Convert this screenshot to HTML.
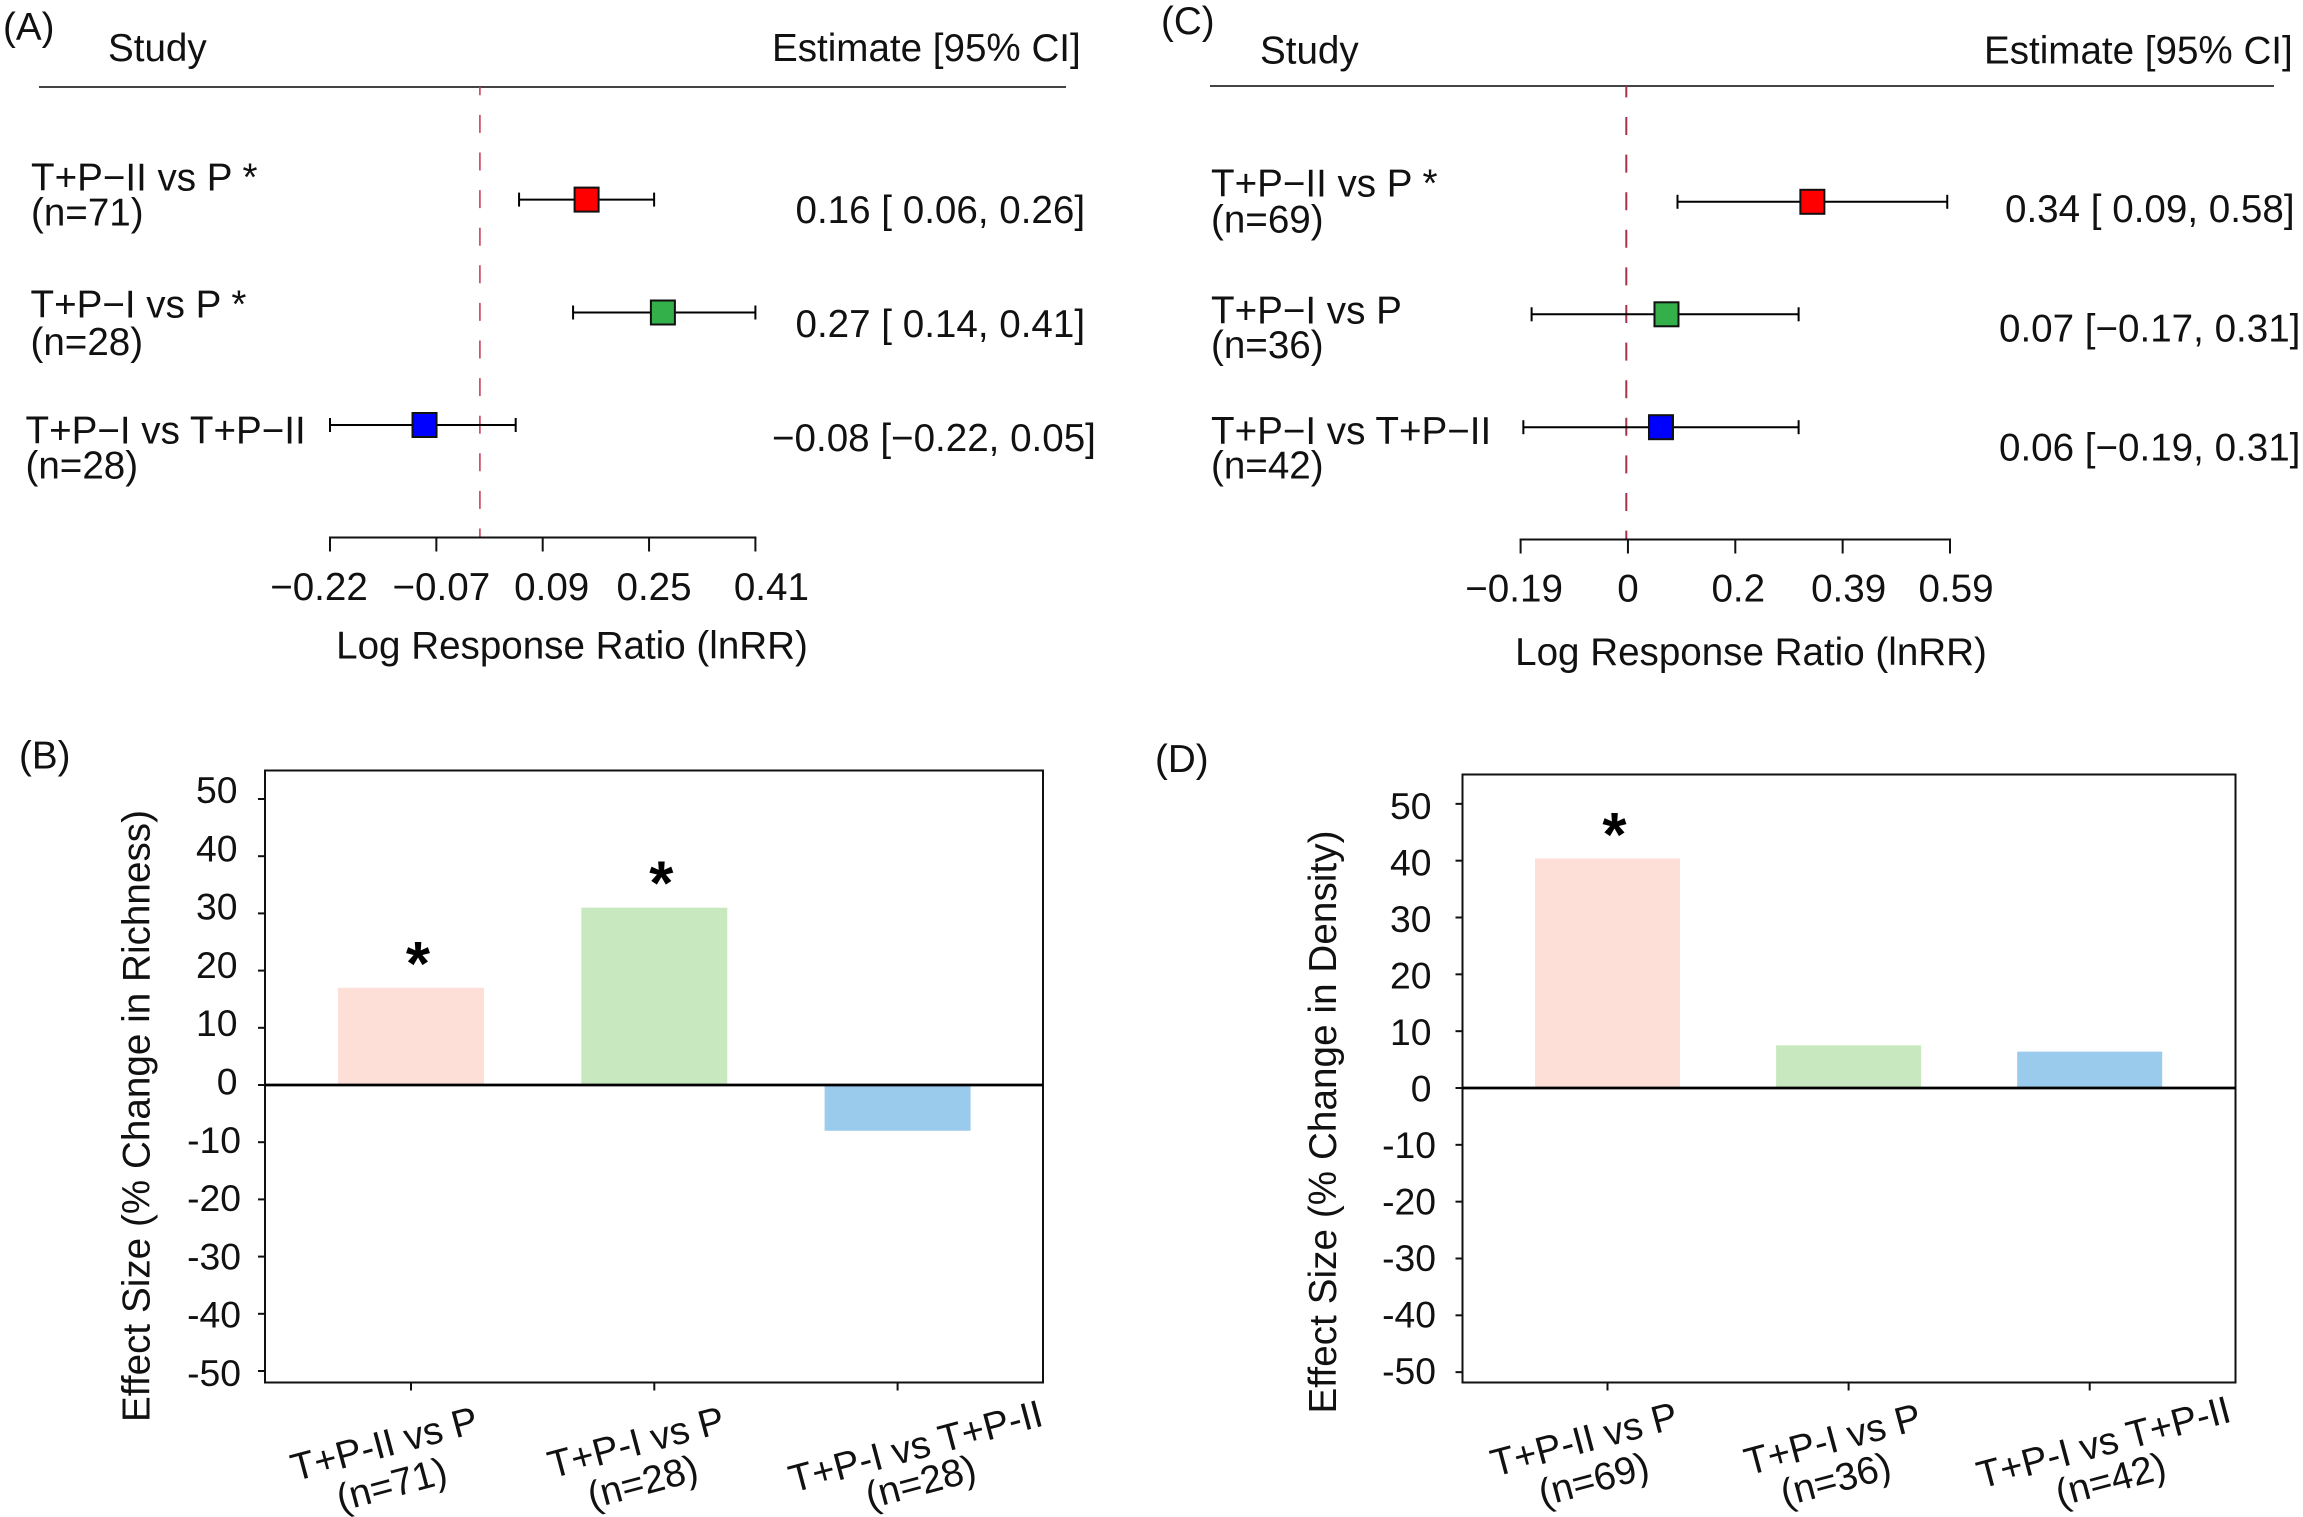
<!DOCTYPE html>
<html lang="en">
<head>
<meta charset="utf-8">
<title>Forest plots and effect size bar charts</title>
<style>
html,body{margin:0;padding:0;background:#fff;}
svg{display:block;}
text{font-family:"Liberation Sans",Arial,sans-serif;font-size:38.6px;fill:#111;}
</style>
</head>
<body>
<svg id="figure" xmlns="http://www.w3.org/2000/svg" width="2303" height="1517" viewBox="0 0 2303 1517">
  <rect x="0" y="0" width="2303" height="1517" fill="#fff"/>

  <g id="panel-a">
    <text x="3" y="40">(A)</text>
    <text x="108" y="61">Study</text>
    <text x="772" y="61">Estimate [95% CI]</text>
    <text x="572" y="658.5" text-anchor="middle">Log Response Ratio (lnRR)</text>
  </g>
  <g id="panel-c">
    <text x="1161" y="34">(C)</text>
    <text x="1260" y="63.5">Study</text>
    <text x="1984" y="63.5">Estimate [95% CI]</text>
    <text x="1751" y="665" text-anchor="middle">Log Response Ratio (lnRR)</text>
  </g>
  <g id="panel-b">
    <text x="19" y="768.5">(B)</text>
    <text transform="translate(149.5 1422) rotate(-90)" textLength="612" lengthAdjust="spacing">Effect Size (% Change in Richness)</text>
  </g>
  <g id="panel-d">
    <text x="1155" y="772">(D)</text>
    <text transform="translate(1336 1413.5) rotate(-90)" textLength="583" lengthAdjust="spacing">Effect Size (% Change in Density)</text>
  </g>
</svg>

<script>
// ---- Panel A data (forest plot, richness) ----
const panelA_studies = ['T+P\u2212II vs P *', 'T+P\u2212I vs P *', 'T+P\u2212I vs T+P\u2212II'];
const panelA_counts = ['(n=71)', '(n=28)', '(n=28)'];
const panelA_estimates = [0.16, 0.273, -0.08];
const panelA_lower = [0.06, 0.14, -0.22];
const panelA_upper = [0.26, 0.41, 0.055];
const panelA_printed = ['0.16 [ 0.06, 0.26]', '0.27 [ 0.14, 0.41]', '\u22120.08 [\u22120.22, 0.05]'];
const panelA_tickValues = [-0.22, -0.0625, 0.095, 0.2525, 0.41];
const panelA_tickLabels = ['\u22120.22', '\u22120.07', '0.09', '0.25', '0.41'];

// ---- Panel C data (forest plot, density) ----
const panelC_studies = ['T+P\u2212II vs P *', 'T+P\u2212I vs P', 'T+P\u2212I vs T+P\u2212II'];
const panelC_counts = ['(n=69)', '(n=36)', '(n=42)'];
const panelC_estimates = [0.34, 0.075, 0.065];
const panelC_lower = [0.095, -0.17, -0.185];
const panelC_upper = [0.585, 0.315, 0.315];
const panelC_printed = ['0.34 [ 0.09, 0.58]', '0.07 [\u22120.17, 0.31]', '0.06 [\u22120.19, 0.31]'];
const panelC_tickValues = [-0.19, 0.005, 0.2, 0.395, 0.59];
const panelC_tickLabels = ['\u22120.19', '0', '0.2', '0.39', '0.59'];

// ---- Panel B data (bar chart, % change in richness) ----
const panelB_categories = ['T+P-II vs P', 'T+P-I vs P', 'T+P-I vs T+P-II'];
const panelB_counts = ['(n=71)', '(n=28)', '(n=28)'];
const panelB_values = [17, 31, -8];
const panelB_significant = [true, true, false];

// ---- Panel D data (bar chart, % change in density) ----
const panelD_categories = ['T+P-II vs P', 'T+P-I vs P', 'T+P-I vs T+P-II'];
const panelD_counts = ['(n=69)', '(n=36)', '(n=42)'];
const panelD_values = [40.4, 7.5, 6.4];
const panelD_significant = [true, false, false];

// ---- Shared y axis ticks for the bar charts ----
const barTickValues = [50, 40, 30, 20, 10, 0, -10, -20, -30, -40, -50];

const SVG_NS = 'http://www.w3.org/2000/svg';

function mk(parent, tag, attrs, content) {
  const el = document.createElementNS(SVG_NS, tag);
  for (const key in attrs) {
    el.setAttribute(key, attrs[key]);
  }
  if (content !== undefined) {
    el.textContent = content;
  }
  parent.appendChild(el);
  return el;
}

function drawForest(parent, prefix, data, box) {
  const xScale = function (v) {
    return box.x0 + (v - box.d0) * (box.x1 - box.x0) / (box.d1 - box.d0);
  };

  const header = mk(parent, 'line', { x1: box.ruleX0, x2: box.ruleX1, y1: box.ruleY, y2: box.ruleY, stroke: '#444', 'stroke-width': 2 });
  
  

  const ref = mk(parent, 'line', { x1: xScale(0.002), x2: xScale(0.002), y1: box.ruleY, y2: box.axisY, stroke: box.dashColor, 'stroke-width': box.dashWidth, 'stroke-dasharray': '18 19.6', 'stroke-dashoffset': box.dashOffset });
  
  

  const axis = mk(parent, 'line', { x1: xScale(data.tickValues[0]) - 1, x2: xScale(data.tickValues[data.tickValues.length - 1]) + 1, y1: box.axisY, y2: box.axisY, stroke: '#111', 'stroke-width': 2 });
  
  

  data.tickValues.forEach(function (v, i) {
    const tick = mk(parent, 'line', { x1: xScale(v), x2: xScale(v), y1: box.axisY, y2: box.axisY + 14, stroke: '#111', 'stroke-width': 2 });
    
    
    const label = mk(parent, 'text', { x: xScale(v) + box.tickNudge[i], y: box.tickBaseline, 'text-anchor': 'middle' }, data.tickLabels[i]);
    
    
  });

  data.studies.forEach(function (study, i) {
    const y = box.rowY[i];

    const name = mk(parent, 'text', { x: box.studyX[i], y: box.studyBaseline[i] }, study);
    
    

    const count = mk(parent, 'text', { x: box.studyX[i], y: box.countBaseline[i] }, data.counts[i]);
    
    

    const ci = mk(parent, 'line', { x1: xScale(data.lower[i]), x2: xScale(data.upper[i]), y1: y, y2: y, stroke: '#000', 'stroke-width': 2 });
    
    

    const capLow = mk(parent, 'line', { x1: xScale(data.lower[i]), x2: xScale(data.lower[i]), y1: y - 7, y2: y + 7, stroke: '#000', 'stroke-width': 2 });
    
    

    const capHigh = mk(parent, 'line', { x1: xScale(data.upper[i]), x2: xScale(data.upper[i]), y1: y - 7, y2: y + 7, stroke: '#000', 'stroke-width': 2 });
    
    

    const point = mk(parent, 'rect', { x: xScale(data.estimates[i]) - 12, y: y - 12, width: 24, height: 24, fill: box.colors[i], stroke: '#111', 'stroke-width': 2 });
    
    

    const printed = mk(parent, 'text', { x: box.printedX[i], y: box.printedBaseline[i] }, data.printed[i]);
    
    
  });
}

function drawBars(parent, prefix, data, box) {
  const yScale = function (v) {
    return box.y0 - v * box.unit;
  };
  const xCenter = function (i) {
    return box.firstCenter + i * box.step;
  };

  data.values.forEach(function (v, i) {
    const top = Math.min(yScale(v), yScale(0));
    const bar = mk(parent, 'rect', { x: xCenter(i) - box.barWidth / 2, y: top, width: box.barWidth, height: Math.abs(yScale(v) - yScale(0)), fill: box.colors[i] });
    
    
    if (data.significant[i]) {
      const star = mk(parent, 'text', { x: xCenter(i) + 7, y: yScale(v) + box.starDrop, 'text-anchor': 'middle', style: 'font-size:62px;font-weight:bold;fill:#000' }, '*');
      
      
    }
  });

  const frame = mk(parent, 'rect', { x: box.left, y: box.top, width: box.right - box.left, height: box.bottom - box.top, fill: 'none', stroke: '#111', 'stroke-width': 2 });
  
  

  const zero = mk(parent, 'line', { x1: box.left, x2: box.right, y1: yScale(0), y2: yScale(0), stroke: '#000', 'stroke-width': 2.8 });
  
  

  barTickValues.forEach(function (v) {
    const tick = mk(parent, 'line', { x1: box.left - 7, x2: box.left, y1: yScale(v), y2: yScale(v), stroke: '#111', 'stroke-width': 2 });
    
    
    const label = mk(parent, 'text', { x: v < 0 ? box.labelRightNeg : box.labelRight, y: box.labelBase + (50 - v) * box.labelStep, 'text-anchor': 'end', style: 'font-size:37.3px' }, String(v));
    
    
  });

  data.categories.forEach(function (cat, i) {
    const tick = mk(parent, 'line', { x1: xCenter(i), x2: xCenter(i), y1: box.bottom, y2: box.bottom + 8, stroke: '#111', 'stroke-width': 2 });
    
    

    const a = box.catPos[i];
    const name = mk(parent, 'text', { transform: 'translate(' + a[0] + ' ' + a[1] + ') rotate(-15)', 'text-anchor': 'middle', style: 'font-size:38.6px' }, cat);
    
    

    const c = box.countPos[i];
    const count = mk(parent, 'text', { transform: 'translate(' + c[0] + ' ' + c[1] + ') rotate(-15)', 'text-anchor': 'middle', style: 'font-size:38.6px' }, data.counts[i]);
    
    
  });
}

const markColors = ['#ff0000', '#33b04a', '#0000ff'];
const barColors = ['#fddfd8', '#c8e8bf', '#9bcbec'];

drawForest(document.getElementById('panel-a'), 'panel-a', {
  studies: panelA_studies, counts: panelA_counts, estimates: panelA_estimates,
  lower: panelA_lower, upper: panelA_upper, printed: panelA_printed,
  tickValues: panelA_tickValues, tickLabels: panelA_tickLabels
}, {
  x0: 330, x1: 755.4, d0: -0.22, d1: 0.41,
  ruleX0: 39, ruleX1: 1066, ruleY: 87, axisY: 537.5, tickBaseline: 600,
  tickNudge: [-11, 5, 9, 5, 16],
  dashColor: '#c8405c', dashWidth: 1.6, dashOffset: 9.7,
  rowY: [199.6, 312.5, 425],
  studyX: [31, 30.5, 25.5], studyBaseline: [190.5, 317.5, 443.5], countBaseline: [225.5, 355, 478.5],
  printedX: [795.5, 795.5, 772], printedBaseline: [223, 337, 451],
  colors: markColors
});

drawForest(document.getElementById('panel-c'), 'panel-c', {
  studies: panelC_studies, counts: panelC_counts, estimates: panelC_estimates,
  lower: panelC_lower, upper: panelC_upper, printed: panelC_printed,
  tickValues: panelC_tickValues, tickLabels: panelC_tickLabels
}, {
  x0: 1520.6, x1: 1950, d0: -0.19, d1: 0.59,
  ruleX0: 1210, ruleX1: 2274, ruleY: 86, axisY: 539.5, tickBaseline: 601.5,
  tickNudge: [-6.5, 0, 3, 6, 6],
  dashColor: '#a8324a', dashWidth: 2, dashOffset: 6.6,
  rowY: [201.8, 314.3, 427.2],
  studyX: [1211, 1211, 1211], studyBaseline: [196.5, 323.5, 444], countBaseline: [232.5, 358, 478.5],
  printedX: [2005, 1999, 1999], printedBaseline: [222, 341.5, 460.5],
  colors: markColors
});

drawBars(document.getElementById('panel-b'), 'panel-b', {
  categories: panelB_categories, counts: panelB_counts,
  values: panelB_values, significant: panelB_significant
}, {
  left: 265, right: 1043, top: 770.5, bottom: 1382.5,
  y0: 1085, unit: 5.72,
  firstCenter: 411, step: 243.3, barWidth: 146, starDrop: -3,
  labelRight: 237.5, labelRightNeg: 241, labelBase: 803, labelStep: 5.83,
  catPos: [[387.7, 1456.5], [639.5, 1455], [919, 1459]],
  countPos: [[395, 1497], [646, 1494.5], [924, 1494.5]],
  colors: barColors
});

drawBars(document.getElementById('panel-d'), 'panel-d', {
  categories: panelD_categories, counts: panelD_counts,
  values: panelD_values, significant: panelD_significant
}, {
  left: 1462.5, right: 2235.5, top: 774.5, bottom: 1382.5,
  y0: 1088, unit: 5.683,
  firstCenter: 1607.5, step: 241.1, barWidth: 145, starDrop: -2.5,
  labelRight: 1431.5, labelRightNeg: 1436, labelBase: 819, labelStep: 5.65,
  catPos: [[1587.5, 1452], [1836, 1452], [2107, 1455]],
  countPos: [[1597, 1492], [1839, 1492], [2114, 1492]],
  colors: barColors
});
</script>
</body>
</html>
